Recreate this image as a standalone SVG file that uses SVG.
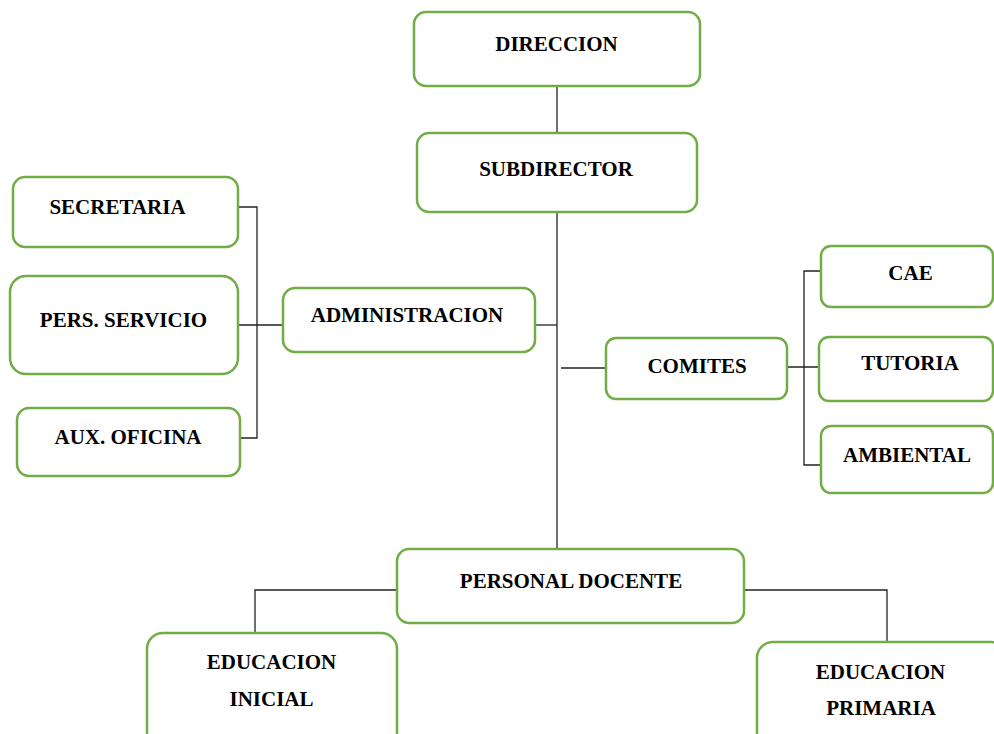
<svg xmlns="http://www.w3.org/2000/svg" width="994" height="734" viewBox="0 0 994 734">
<style>
.box{fill:#fff;stroke:#70AD47;stroke-width:2.5}
.lbl{font-family:"Liberation Serif","Times New Roman",serif;font-weight:bold;font-size:21px;fill:#000;text-anchor:middle}
.ln{stroke:#222;stroke-width:1.3;fill:none}
</style>
<rect width="994" height="734" fill="#fff"/>
<g id="connectors">
<path class="ln" d="M557 86V133"/>
<path class="ln" d="M557 212V549"/>
<path class="ln" d="M535 325H557"/>
<path class="ln" d="M238 207H257V438H240M238 325H283"/>
<path class="ln" d="M561 368H606"/>
<path class="ln" d="M787 367H819M821 271H804V465H821"/>
<path class="ln" d="M397 590H255V633"/>
<path class="ln" d="M744 590H887V642"/>
</g>
<g id="direccion"><rect class="box" x="414" y="12" width="286" height="74" rx="12"/><text class="lbl" x="556.5" y="50.5">DIRECCION</text></g>
<g id="subdirector"><rect class="box" x="417" y="133" width="280" height="79" rx="12"/><text class="lbl" x="556" y="175.5">SUBDIRECTOR</text></g>
<g id="secretaria"><rect class="box" x="13" y="177" width="225" height="70" rx="12"/><text class="lbl" x="117.5" y="214">SECRETARIA</text></g>
<g id="pers-servicio"><rect class="box" x="10" y="276" width="228" height="98" rx="16"/><text class="lbl" x="123.5" y="327">PERS. SERVICIO</text></g>
<g id="aux-oficina"><rect class="box" x="17" y="408" width="223" height="68" rx="12"/><text class="lbl" x="128" y="444">AUX. OFICINA</text></g>
<g id="administracion"><rect class="box" x="283" y="288" width="252" height="64" rx="12"/><text class="lbl" x="407" y="322">ADMINISTRACION</text></g>
<g id="comites"><rect class="box" x="606" y="338" width="181" height="61" rx="10"/><text class="lbl" x="697" y="373">COMITES</text></g>
<g id="cae"><rect class="box" x="821" y="246" width="172" height="61" rx="10"/><text class="lbl" x="910.5" y="280">CAE</text></g>
<g id="tutoria"><rect class="box" x="819" y="337" width="174" height="64" rx="10"/><text class="lbl" x="910" y="370">TUTORIA</text></g>
<g id="ambiental"><rect class="box" x="821" y="426" width="172" height="67" rx="10"/><text class="lbl" x="907" y="462">AMBIENTAL</text></g>
<g id="personal-docente"><rect class="box" x="397" y="549" width="347" height="74" rx="12"/><text class="lbl" x="571" y="588">PERSONAL DOCENTE</text></g>
<g id="educacion-inicial"><rect class="box" x="147" y="633" width="250" height="120" rx="16"/><text class="lbl" x="271.5" y="669">EDUCACION</text><text class="lbl" x="271.5" y="706">INICIAL</text></g>
<g id="educacion-primaria"><rect class="box" x="757" y="642" width="250" height="120" rx="16"/><text class="lbl" x="880.5" y="679">EDUCACION</text><text class="lbl" x="881" y="715">PRIMARIA</text></g>
</svg>
